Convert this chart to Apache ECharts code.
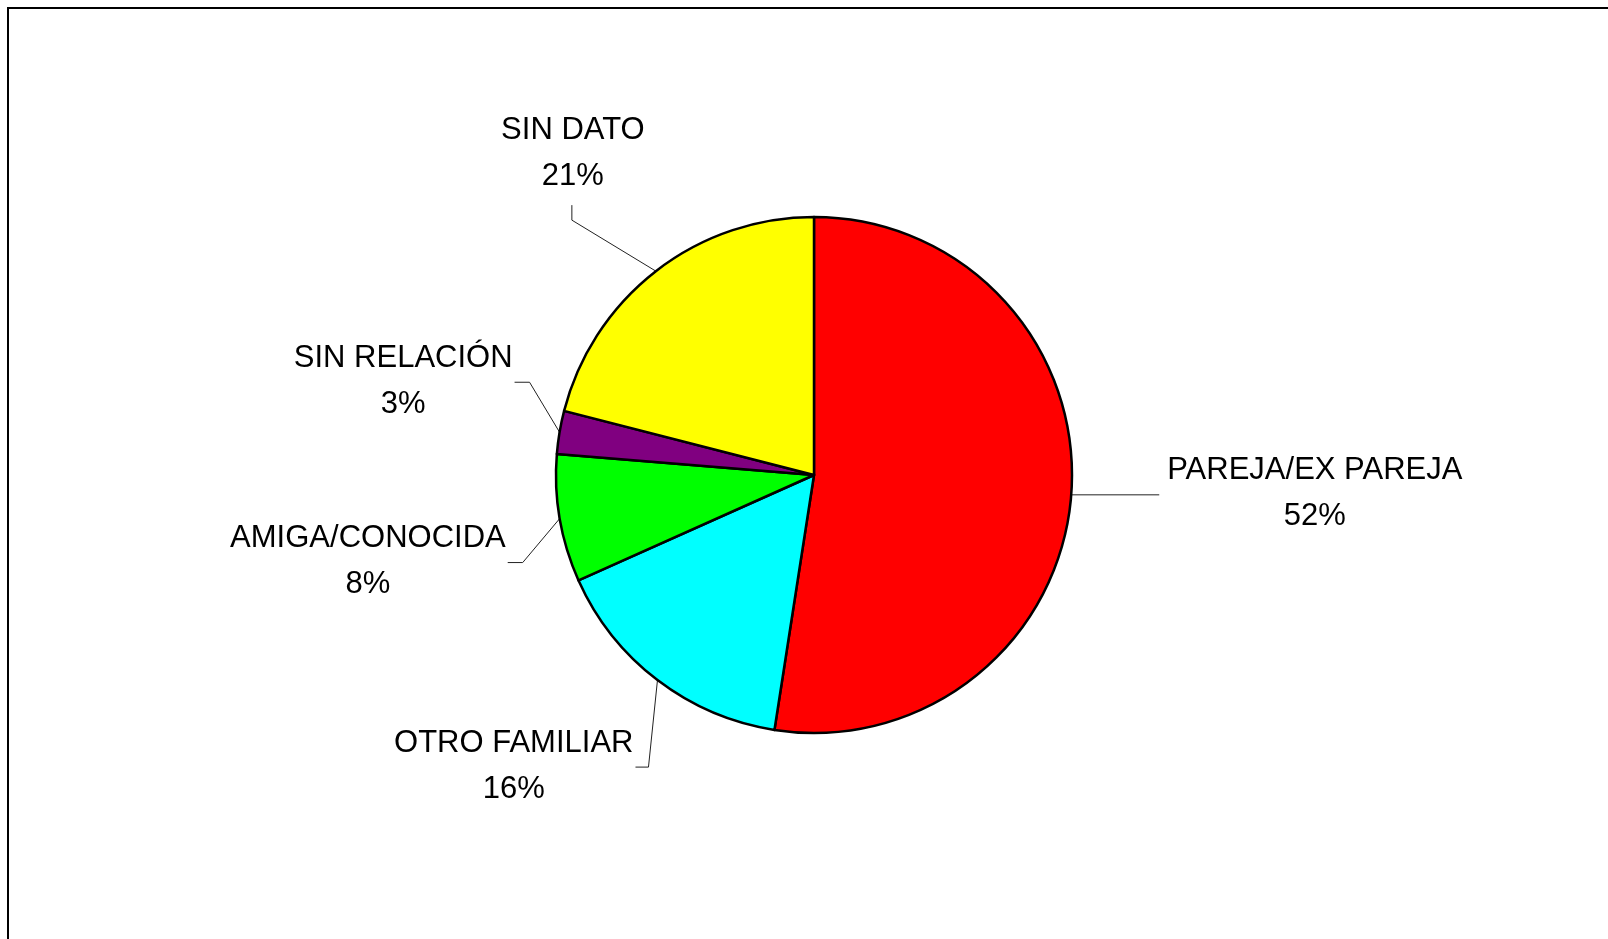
<!DOCTYPE html>
<html>
<head>
<meta charset="utf-8">
<title>Relación con el agresor</title>
<script src="https://cdn.jsdelivr.net/npm/echarts@6/dist/echarts.min.js"></script>
<style>
  html, body { margin: 0; padding: 0; background: #fff; }
  #chart { width: 1608px; height: 939px; }
</style>
</head>
<body>
<div id="chart"></div>
<script>
// datos (porcentaje del total)
const categories = ['PAREJA/EX PAREJA', 'OTRO FAMILIAR', 'AMIGA/CONOCIDA', 'SIN RELACIÓN', 'SIN DATO']
const values = [52.45, 15.85, 8.0, 2.7, 21.0]
const colors = ['#ff0000', '#00ffff', '#00ff00', '#800080', '#ffff00']

// trazado de las líneas guía: codo y final relativos al punto del borde
const guideBend = [[0, 0], [-9, 87], [-37, 44], [-30, -50], [-84, -51]]
const guideEnd = [[88, 0], [-22, 87], [-52, 44], [-45, -50], [-84, -66]]
// lado de la etiqueta respecto al final de la guía
const labelSide = ['right', 'left', 'left', 'left', 'top']

const chart = echarts.init(document.getElementById('chart'))

const option = {
  backgroundColor: '#fff',
  animation: false,
  graphic: [{
    type: 'rect',
    shape: { x: 8, y: 8, width: 2000, height: 2000 },
    style: { fill: 'none', stroke: '#000', lineWidth: 2 },
    z: -10
  }],
  series: [{
    type: 'pie',
    center: [814, 475],
    radius: 258,
    startAngle: 90,
    clockwise: true,
    avoidLabelOverlap: false,
    data: categories.map((name, i) => ({
      name,
      value: values[i],
      itemStyle: { color: colors[i] }
    })),
    itemStyle: { borderColor: '#000', borderWidth: 2.5 },
    label: {
      show: true,
      position: 'outside',
      color: '#000',
      fontFamily: '"Liberation Sans", Arial, sans-serif',
      fontSize: 31,
      lineHeight: 46,
      formatter: (p) => p.name + '\n' + Math.round(p.percent) + '%'
    },
    labelLine: {
      show: true,
      length: 10,
      length2: 10,
      lineStyle: { color: '#222', width: 1 }
    },
    labelLayout: (params) => {
      const i = params.dataIndex
      const p0 = params.labelLinePoints[0]
      const bend = [p0[0] + guideBend[i][0], p0[1] + guideBend[i][1]]
      const end = [p0[0] + guideEnd[i][0], p0[1] + guideEnd[i][1]]
      const w = params.labelRect.width
      const h = params.labelRect.height
      let x, y
      if (labelSide[i] === 'right') {
        x = end[0] + 8 + w / 2
        y = end[1] - 1
      } else if (labelSide[i] === 'left') {
        x = end[0] - 2 - w / 2
        y = end[1] - 1
      } else {
        x = end[0] + 1
        y = end[1] - 6 - h / 2
      }
      return {
        x, y,
        align: 'center',
        verticalAlign: 'middle',
        labelLinePoints: [p0, bend, end]
      }
    },
    emphasis: { disabled: true }
  }]
}

chart.setOption(option)
window.addEventListener('resize', () => chart.resize())
</script>
</body>
</html>
